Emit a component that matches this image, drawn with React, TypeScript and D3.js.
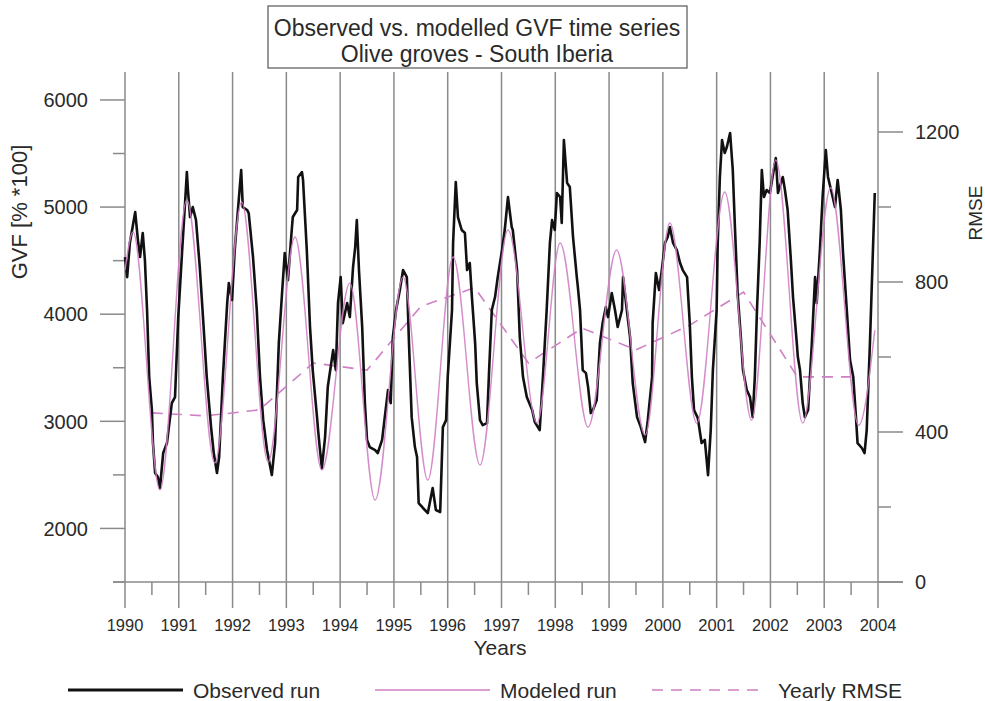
import * as d3 from 'd3'

const FONT = '"Liberation Sans", Arial, Helvetica, sans-serif'

// decimal year, GVF
const observedRun: [number, number][] = [
  [1990.0, 4533], [1990.04, 4346], [1990.09, 4664], [1990.19, 4954], [1990.24, 4692], [1990.28, 4534],
  [1990.33, 4758], [1990.37, 4506], [1990.41, 4039], [1990.45, 3413], [1990.5, 3105], [1990.52, 2797],
  [1990.56, 2517], [1990.61, 2480], [1990.65, 2377], [1990.71, 2704], [1990.78, 2797], [1990.87, 3170],
  [1990.93, 3226], [1990.99, 3973], [1991.06, 4571], [1991.12, 5066], [1991.15, 5327], [1991.17, 5159],
  [1991.21, 4907], [1991.26, 5000], [1991.32, 4879], [1991.39, 4440], [1991.45, 3973], [1991.52, 3413],
  [1991.6, 2946], [1991.65, 2704], [1991.71, 2517], [1991.75, 2667], [1991.82, 3413], [1991.9, 4104],
  [1991.93, 4290], [1991.99, 4132], [1992.04, 4599], [1992.1, 4973], [1992.16, 5346], [1992.19, 5000],
  [1992.27, 4973], [1992.3, 4944], [1992.38, 4534], [1992.45, 4039], [1992.51, 3413], [1992.57, 3011],
  [1992.64, 2732], [1992.73, 2498], [1992.79, 2797], [1992.86, 3730], [1992.92, 4197], [1992.97, 4571],
  [1993.03, 4318], [1993.1, 4786], [1993.12, 4907], [1993.2, 4973], [1993.22, 5281], [1993.29, 5327],
  [1993.31, 5253], [1993.38, 4599], [1993.44, 3880], [1993.49, 3478], [1993.57, 3039], [1993.59, 2918],
  [1993.62, 2760], [1993.66, 2564], [1993.72, 2853], [1993.77, 3320], [1993.87, 3665], [1993.92, 3478],
  [1993.96, 4104], [1994.01, 4346], [1994.05, 3917], [1994.13, 4104], [1994.18, 3973], [1994.24, 4440],
  [1994.28, 4627], [1994.31, 4879], [1994.35, 4412], [1994.41, 3880], [1994.46, 3170], [1994.5, 2826],
  [1994.55, 2760], [1994.65, 2732], [1994.7, 2704], [1994.78, 2826], [1994.83, 3039], [1994.89, 3292],
  [1994.94, 3170], [1994.98, 3786], [1995.04, 4039], [1995.11, 4225], [1995.17, 4412], [1995.24, 4346],
  [1995.28, 3730], [1995.33, 3039], [1995.39, 2760], [1995.43, 2667], [1995.46, 2237], [1995.54, 2191],
  [1995.63, 2144], [1995.72, 2377], [1995.78, 2172], [1995.86, 2153], [1995.91, 2946], [1995.97, 3011],
  [1996.0, 3413], [1996.08, 4039], [1996.1, 4665], [1996.15, 5234], [1996.19, 4907], [1996.26, 4786],
  [1996.32, 4758], [1996.36, 4412], [1996.41, 4478], [1996.45, 4160], [1996.51, 3730], [1996.54, 3357],
  [1996.6, 3011], [1996.65, 2964], [1996.73, 2983], [1996.77, 3478], [1996.82, 4039], [1996.88, 4160],
  [1996.93, 4346], [1997.01, 4599], [1997.06, 4786], [1997.12, 5094], [1997.19, 4813], [1997.21, 4786],
  [1997.29, 4412], [1997.34, 3786], [1997.4, 3413], [1997.47, 3226], [1997.57, 3105], [1997.62, 2992],
  [1997.71, 2918], [1997.77, 3413], [1997.84, 4039], [1997.9, 4665], [1997.94, 4879], [1997.99, 4786],
  [1998.03, 5132], [1998.09, 5094], [1998.12, 4851], [1998.16, 5626], [1998.22, 5225], [1998.27, 5188],
  [1998.33, 4720], [1998.4, 4346], [1998.42, 4253], [1998.46, 4039], [1998.51, 3478], [1998.57, 3450],
  [1998.61, 3320], [1998.66, 3077], [1998.7, 3105], [1998.77, 3198], [1998.83, 3730], [1998.88, 3917],
  [1998.94, 4067], [1998.98, 3973], [1999.05, 4197], [1999.11, 4039], [1999.16, 3880], [1999.24, 4039],
  [1999.26, 4346], [1999.33, 4039], [1999.39, 3786], [1999.44, 3357], [1999.52, 3039], [1999.59, 2946],
  [1999.67, 2806], [1999.72, 3011], [1999.8, 3413], [1999.81, 3917], [1999.87, 4385], [1999.93, 4225],
  [1999.98, 4412], [2000.04, 4665], [2000.09, 4720], [2000.13, 4813], [2000.19, 4665], [2000.26, 4599],
  [2000.32, 4478], [2000.37, 4412], [2000.45, 4346], [2000.5, 3917], [2000.54, 3413], [2000.58, 3105],
  [2000.65, 3030], [2000.72, 2797], [2000.78, 2826], [2000.84, 2498], [2000.89, 2918], [2000.93, 3478],
  [2001.0, 4039], [2001.02, 4665], [2001.06, 5281], [2001.1, 5626], [2001.15, 5505], [2001.19, 5561],
  [2001.25, 5692], [2001.3, 5346], [2001.34, 4813], [2001.39, 4197], [2001.45, 3786], [2001.49, 3478],
  [2001.56, 3292], [2001.62, 3226], [2001.67, 3039], [2001.71, 3413], [2001.75, 4039], [2001.8, 4665],
  [2001.84, 5346], [2001.88, 5094], [2001.93, 5159], [2001.99, 5132], [2002.04, 5281], [2002.1, 5458],
  [2002.14, 5132], [2002.23, 5281], [2002.27, 5159], [2002.32, 4973], [2002.38, 4506], [2002.42, 4160],
  [2002.49, 3730], [2002.51, 3600], [2002.55, 3478], [2002.6, 3170], [2002.64, 3039], [2002.7, 3105],
  [2002.77, 3730], [2002.83, 4346], [2002.86, 4104], [2002.92, 4599], [2002.97, 5094], [2003.03, 5533],
  [2003.07, 5281], [2003.14, 5132], [2003.2, 5000], [2003.25, 5253], [2003.31, 4973], [2003.35, 4571],
  [2003.42, 4039], [2003.48, 3572], [2003.54, 3413], [2003.59, 3039], [2003.62, 2797], [2003.7, 2751],
  [2003.75, 2704], [2003.79, 2918], [2003.85, 3730], [2003.9, 4506], [2003.94, 5132],
]

// extrema of the modelled curve
const modeledRun: [number, number][] = [
  [1990.0, 4412], [1990.15, 4767], [1990.65, 2360], [1991.15, 5066], [1991.67, 2611], [1992.17, 5048],
  [1992.66, 2620], [1993.16, 4720], [1993.66, 2545], [1994.18, 4290], [1994.65, 2265], [1995.17, 4346],
  [1995.63, 2452], [1996.1, 4534], [1996.6, 2592], [1997.12, 4786], [1997.66, 2983], [1998.09, 4665],
  [1998.61, 2946], [1999.14, 4599], [1999.67, 2873], [2000.13, 4851], [2000.63, 2983], [2001.15, 5141],
  [2001.65, 3011], [2002.1, 5440], [2002.6, 2983], [2003.12, 5180], [2003.64, 2964], [2003.94, 3850],
]

const yearlyRmse: [number, number][] = [
  [1990.5, 451], [1991.5, 443], [1992.5, 459], [1993.5, 584], [1994.5, 565], [1995.5, 735], [1996.5, 785],
  [1997.5, 584], [1998.5, 677], [1999.5, 619], [2000.5, 685], [2001.5, 773], [2002.5, 547], [2003.5, 547],
]

const yearTicks = [1990, 1991, 1992, 1993, 1994, 1995, 1996, 1997, 1998, 1999, 2000, 2001, 2002, 2003, 2004]
const gvfTicks = [2000, 3000, 4000, 5000, 6000]
const gvfMinor = [1500, 2500, 3500, 4500, 5500]
const rmseTicks = [0, 400, 800, 1200]
const rmseMinor = [200, 600, 1000]

const PINK = '#cf7fc4'
const GRID = '#8a8a8a'
const TEXT = '#2a2a2a'

export default function App() {
  const top = 72
  const bottom = 582
  const x = d3.scaleLinear().domain([1990, 2004]).range([125, 878])
  const yL = d3.scaleLinear().domain([1500, 6261]).range([bottom, top])
  const yR = d3.scaleLinear().domain([0, 1360]).range([bottom, top])

  const obsLine = d3.line<[number, number]>().x((d) => x(d[0])).y((d) => yL(d[1]))
  const modLine = d3.line<[number, number]>().x((d) => x(d[0])).y((d) => yL(d[1])).curve(d3.curveMonotoneX)
  const rmseLine = d3.line<[number, number]>().x((d) => x(d[0])).y((d) => yR(d[1]))

  const x0 = x.range()[0]
  const x1 = x.range()[1]

  return (
    <div style={{ position: 'absolute', left: 0, top: 0 }}>
      <svg width={985} height={701} style={{ display: 'block', background: '#fff' }} fontFamily={FONT}>
        {/* title */}
        <rect x={268} y={6} width={419} height={62} fill="#fff" stroke="#555" strokeWidth={1.2} />
        <text x={477} y={36} textAnchor="middle" fontSize={23} fill={TEXT}>Observed vs. modelled GVF time series</text>
        <text x={477} y={62} textAnchor="middle" fontSize={23} fill={TEXT}>Olive groves - South Iberia</text>

        {/* year lines */}
        {yearTicks.map((t) => (
          <line key={t} x1={x(t)} x2={x(t)} y1={top} y2={608} stroke={GRID} strokeWidth={1.5} />
        ))}
        {yearTicks.slice(0, -1).map((t) => (
          <line key={'m' + t} x1={x(t + 0.5)} x2={x(t + 0.5)} y1={bottom} y2={595} stroke={GRID} strokeWidth={1.5} />
        ))}
        <line x1={113} x2={903} y1={bottom} y2={bottom} stroke={GRID} strokeWidth={1.5} />

        {/* left axis */}
        {gvfTicks.map((t) => (
          <g key={t}>
            <line x1={100} x2={x0} y1={yL(t)} y2={yL(t)} stroke={GRID} strokeWidth={1.5} />
            <text x={88} y={yL(t)} dy="0.36em" textAnchor="end" fontSize={20} fill={TEXT}>{t}</text>
          </g>
        ))}
        {gvfMinor.map((t) => (
          <line key={t} x1={113} x2={x0} y1={yL(t)} y2={yL(t)} stroke={GRID} strokeWidth={1.5} />
        ))}
        <text transform="translate(27,212) rotate(-90)" textAnchor="middle" fontSize={22} fill={TEXT}>GVF [% *100]</text>

        {/* right axis */}
        {rmseTicks.map((t) => (
          <g key={t}>
            <line x1={x1} x2={903} y1={yR(t)} y2={yR(t)} stroke={GRID} strokeWidth={1.5} />
            <text x={915} y={yR(t)} dy="0.36em" fontSize={20} fill={TEXT}>{t}</text>
          </g>
        ))}
        {rmseMinor.map((t) => (
          <line key={t} x1={x1} x2={891} y1={yR(t)} y2={yR(t)} stroke={GRID} strokeWidth={1.5} />
        ))}
        <text transform="translate(982,213) rotate(-90)" textAnchor="middle" fontSize={19} fill={TEXT}>RMSE</text>

        {/* bottom labels */}
        {yearTicks.map((t) => (
          <text key={t} x={x(t)} y={625} dy="0.36em" textAnchor="middle" fontSize={16.5} fill={TEXT}>{t}</text>
        ))}
        <text x={500} y={647} dy="0.36em" textAnchor="middle" fontSize={21} fill={TEXT}>Years</text>

        {/* series */}
        <path d={rmseLine(yearlyRmse) ?? ''} fill="none" stroke={PINK} strokeWidth={1.6} strokeDasharray="11,8" />
        <path d={obsLine(observedRun) ?? ''} fill="none" stroke="#111" strokeWidth={2.6} strokeLinejoin="round" />
        <path d={modLine(modeledRun) ?? ''} fill="none" stroke={PINK} strokeWidth={1.4} strokeOpacity={0.9} />

        {/* legend */}
        <line x1={68} x2={183} y1={690} y2={690} stroke="#111" strokeWidth={3} />
        <text x={193} y={690} dy="0.36em" fontSize={21} fill={TEXT}>Observed run</text>
        <line x1={375} x2={490} y1={690} y2={690} stroke={PINK} strokeWidth={1.6} />
        <text x={500} y={690} dy="0.36em" fontSize={21} fill={TEXT}>Modeled run</text>
        <line x1={652} x2={765} y1={690} y2={690} stroke={PINK} strokeWidth={1.6} strokeDasharray="11,8" />
        <text x={778} y={690} dy="0.36em" fontSize={21} fill={TEXT}>Yearly RMSE</text>
      </svg>
    </div>
  )
}
